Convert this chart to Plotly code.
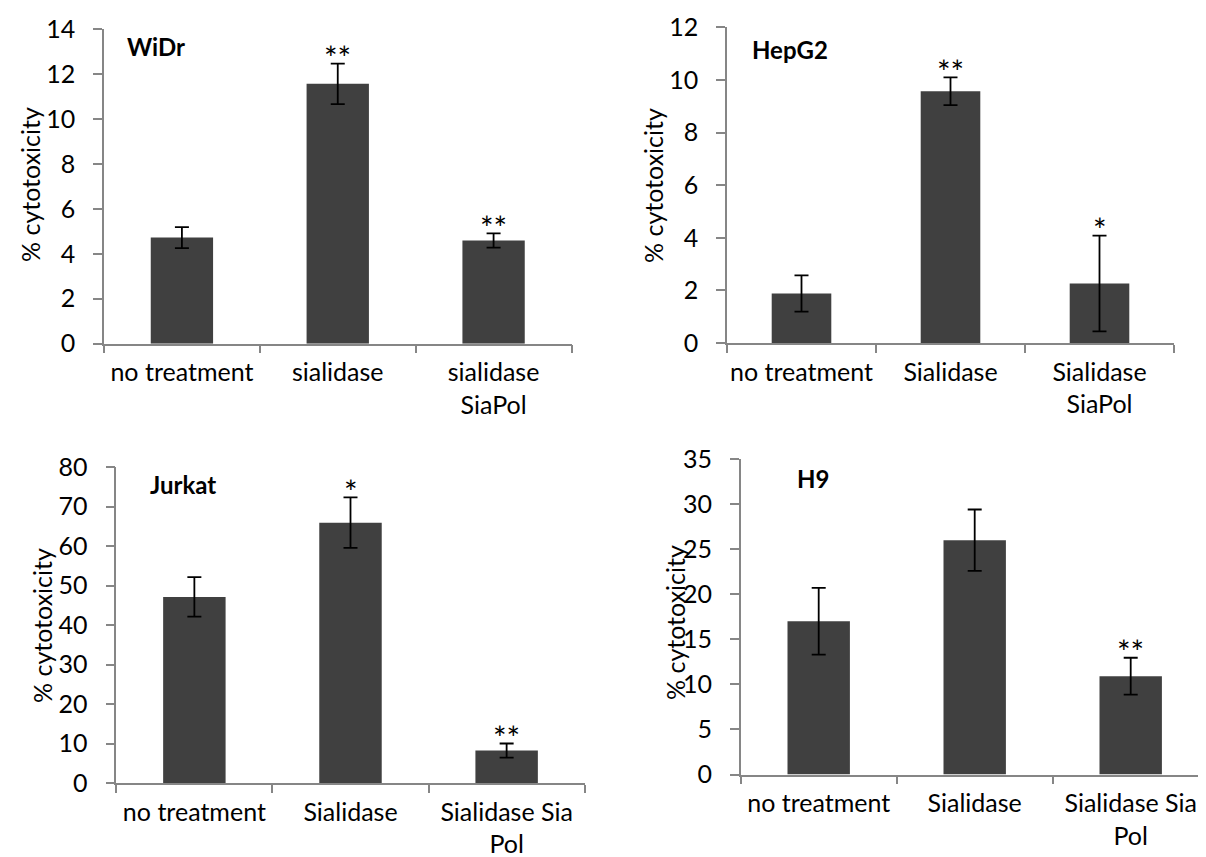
import plotly.graph_objects as go

# ---------------- data ----------------
widr_cats = ["no treatment", "sialidase", "sialidase<br>SiaPol"]
widr_vals = [4.72, 11.56, 4.59]
widr_errs = [0.47, 0.90, 0.32]
widr_stars = ["", "**", "**"]

hepg2_cats = ["no treatment", "Sialidase", "Sialidase<br>SiaPol"]
hepg2_vals = [1.88, 9.57, 2.26]
hepg2_errs = [0.69, 0.53, 1.82]
hepg2_stars = ["", "**", "*"]

jurkat_cats = ["no treatment", "Sialidase", "Sialidase Sia<br>Pol"]
jurkat_vals = [47.1, 65.9, 8.2]
jurkat_errs = [5.0, 6.4, 1.8]
jurkat_stars = ["", "*", "**"]

h9_cats = ["no treatment", "Sialidase", "Sialidase Sia<br>Pol"]
h9_vals = [17.0, 26.0, 10.9]
h9_errs = [3.7, 3.4, 2.05]
h9_stars = ["", "", "**"]

panel_titles = ["WiDr", "HepG2", "Jurkat", "H9"]
y_title = "% cytotoxicity"
y_max = [14, 12, 80, 35]
y_dtick = [2, 2, 10, 5]

# ---------------- layout geometry (pixels) ----------------
W, H = 1206, 857
FONT = "Lato, Carlito, Calibri, sans-serif"
BAR_COLOR = "#404040"
AXIS_COLOR = "#868686"
FS = 25

# x0, x1, ytop, ybottom in pixels
boxes = [
    (96.0, 563.5, 21.0, 335.7),
    (719.0, 1166.0, 19.3, 335.0),
    (108.3, 576.7, 459.0, 775.0),
    (732.7, 1200.7, 451.0, 766.5),
]
title_pos = [(116.7, 39.0), (741.7, 41.7), (140.0, 476.0), (786.7, 470.0)]
ytitle_pos = [(22.0, 177.0), (645.0, 177.0), (34.0, 618.0), (667.0, 615.0)]

panels = [
    (widr_cats, widr_vals, widr_errs, widr_stars),
    (hepg2_cats, hepg2_vals, hepg2_errs, hepg2_stars),
    (jurkat_cats, jurkat_vals, jurkat_errs, jurkat_stars),
    (h9_cats, h9_vals, h9_errs, h9_stars),
]

fig = go.Figure()
annotations = []
layout_axes = {}

for i, (cats, vals, errs, stars) in enumerate(panels):
    n = i + 1
    xa = "x" if n == 1 else f"x{n}"
    ya = "y" if n == 1 else f"y{n}"
    fig.add_trace(go.Bar(
        x=cats, y=vals, xaxis=xa, yaxis=ya,
        marker=dict(color=BAR_COLOR, line=dict(width=0)),
        width=0.4,
        error_y=dict(type="data", array=errs, visible=True,
                     color="black", thickness=1.8, width=7),
        showlegend=False, hoverinfo="skip",
    ))
    x0, x1, yt, yb = boxes[i]
    xkey = "xaxis" if n == 1 else f"xaxis{n}"
    ykey = "yaxis" if n == 1 else f"yaxis{n}"
    layout_axes[xkey] = dict(
        domain=[x0 / W, x1 / W], anchor=ya, type="category",
        range=[-0.5, 2.5], showline=True, linecolor=AXIS_COLOR, linewidth=1.5,
        ticks="outside", tickson="boundaries", ticklen=8, tickcolor=AXIS_COLOR,
        tickwidth=1.5, showgrid=False, zeroline=False, automargin=False,
        tickangle=0,
        tickfont=dict(family=FONT, size=FS, color="black"),
        ticklabelstandoff=6, fixedrange=True,
    )
    layout_axes[ykey] = dict(
        domain=[1 - yb / H, 1 - yt / H], anchor=xa,
        range=[0, y_max[i]], dtick=y_dtick[i], tick0=0,
        showline=True, linecolor=AXIS_COLOR, linewidth=1.5,
        ticks="outside", ticklen=9, tickcolor=AXIS_COLOR, tickwidth=1.5,
        showgrid=False, zeroline=False, automargin=False,
        tickfont=dict(family=FONT, size=FS, color="black"),
        ticklabelstandoff=13, fixedrange=True,
    )
    # significance stars
    for c, v, e, s in zip(cats, vals, errs, stars):
        if s:
            annotations.append(dict(
                x=c, y=v + e, xref=xa, yref=ya, text=s, showarrow=False,
                xanchor="center", yanchor="middle", yshift=6,
                font=dict(family=FONT, size=32, color="black"),
            ))
    # panel title
    tx, ty = title_pos[i]
    annotations.append(dict(
        x=tx / W, y=1 - ty / H, xref="paper", yref="paper",
        text=f"<b>{panel_titles[i]}</b>", showarrow=False,
        xanchor="left", yanchor="middle",
        font=dict(family=FONT, size=FS - 1, color="black"),
    ))
    # y axis title
    yx, yy = ytitle_pos[i]
    annotations.append(dict(
        x=yx / W, y=1 - yy / H, xref="paper", yref="paper",
        text=y_title, showarrow=False, textangle=-90,
        xanchor="center", yanchor="middle",
        font=dict(family=FONT, size=FS, color="black"),
    ))

fig.update_layout(
    width=W, height=H,
    margin=dict(l=0, r=0, t=0, b=0, autoexpand=False),
    paper_bgcolor="white", plot_bgcolor="white",
    annotations=annotations,
    bargap=0.6,
    **layout_axes,
)

fig.write_html("out.html", config={"displayModeBar": False})
